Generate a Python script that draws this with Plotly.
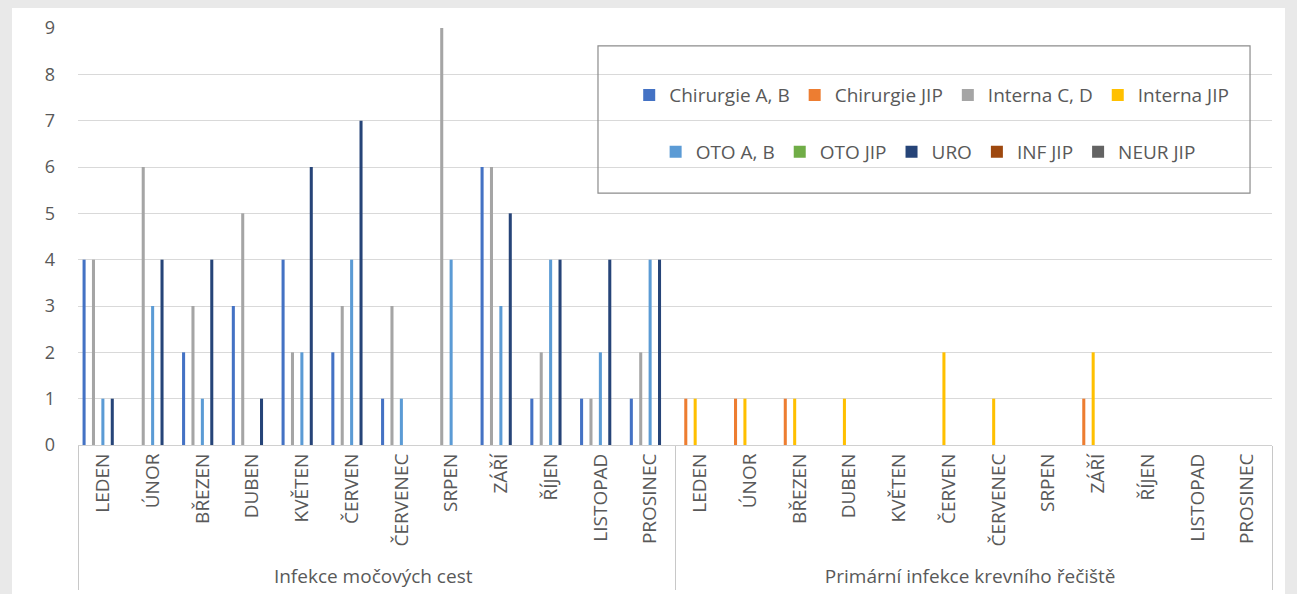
import plotly.graph_objects as go

months = ["LEDEN", "ÚNOR", "BŘEZEN", "DUBEN", "KVĚTEN", "ČERVEN", "ČERVENEC",
          "SRPEN", "ZÁŘÍ", "ŘÍJEN", "LISTOPAD", "PROSINEC"]
groups = ["Infekce močových cest", "Primární infekce krevního řečiště"]

series_names = ["Chirurgie A, B", "Chirurgie JIP", "Interna C, D", "Interna JIP",
                "OTO A, B", "OTO JIP", "URO", "INF JIP", "NEUR JIP"]
series_colors = ["#4472C4", "#ED7D31", "#A5A5A5", "#FFC000",
                 "#5B9BD5", "#70AD47", "#264478", "#9E480E", "#636363"]

# values: first 12 = Infekce močových cest, last 12 = Primární infekce krevního řečiště
chir_ab     = [4, 0, 2, 3, 4, 2, 1, 0, 6, 1, 1, 1,  0, 0, 0, 0, 0, 0, 0, 0, 0, 0, 0, 0]
chir_jip    = [0, 0, 0, 0, 0, 0, 0, 0, 0, 0, 0, 0,  1, 1, 1, 0, 0, 0, 0, 0, 1, 0, 0, 0]
interna_cd  = [4, 6, 3, 5, 2, 3, 3, 9, 6, 2, 1, 2,  0, 0, 0, 0, 0, 0, 0, 0, 0, 0, 0, 0]
interna_jip = [0, 0, 0, 0, 0, 0, 0, 0, 0, 0, 0, 0,  1, 1, 1, 1, 0, 2, 1, 0, 2, 0, 0, 0]
oto_ab      = [1, 3, 1, 0, 2, 4, 1, 4, 3, 4, 2, 4,  0, 0, 0, 0, 0, 0, 0, 0, 0, 0, 0, 0]
oto_jip     = [0, 0, 0, 0, 0, 0, 0, 0, 0, 0, 0, 0,  0, 0, 0, 0, 0, 0, 0, 0, 0, 0, 0, 0]
uro         = [1, 4, 4, 1, 6, 7, 0, 0, 5, 4, 4, 4,  0, 0, 0, 0, 0, 0, 0, 0, 0, 0, 0, 0]
inf_jip     = [0, 0, 0, 0, 0, 0, 0, 0, 0, 0, 0, 0,  0, 0, 0, 0, 0, 0, 0, 0, 0, 0, 0, 0]
neur_jip    = [0, 0, 0, 0, 0, 0, 0, 0, 0, 0, 0, 0,  0, 0, 0, 0, 0, 0, 0, 0, 0, 0, 0, 0]

series_values = [chir_ab, chir_jip, interna_cd, interna_jip,
                 oto_ab, oto_jip, uro, inf_jip, neur_jip]

x_outer = [g for g in groups for _ in months]
x_inner = [m for _ in groups for m in months]

FONT = "Open Sans"
TXT = "#595959"

fig = go.Figure()
for i, (name, col, vals) in enumerate(zip(series_names, series_colors, series_values)):
    fig.add_trace(go.Bar(
        x=[x_outer, x_inner], y=vals, name=name,
        marker=dict(color=col, line=dict(width=0)),
        legend="legend" if i < 4 else "legend2",
    ))

legend_common = dict(
    orientation="h", xanchor="center", yanchor="middle",
    bgcolor="rgba(0,0,0,0)", borderwidth=0,
    font=dict(family=FONT, size=19, color=TXT),
    itemwidth=30, traceorder="normal", tracegroupgap=0,
)

fig.update_layout(
    width=1297, height=594,
    margin=dict(l=78, r=25, t=28, b=149),
    paper_bgcolor="#e9e9e9",
    plot_bgcolor="#ffffff",
    barmode="group", bargap=0.15, bargroupgap=0.35,
    font=dict(family=FONT, color=TXT),
    legend=dict(x=0.715, y=0.839, **legend_common),
    legend2=dict(x=0.712, y=0.703, **legend_common),
    xaxis=dict(
        type="multicategory",
        tickangle=-90,
        tickfont=dict(family=FONT, size=19, color=TXT),
        showline=True, linecolor="#d0d0d0", linewidth=1,
        showgrid=False, ticks="",
        showdividers=True, dividercolor="#c8c8c8", dividerwidth=1,
        automargin=False,
    ),
    yaxis=dict(
        range=[0, 9], dtick=1, tick0=0,
        tickfont=dict(family=FONT, size=18, color=TXT),
        showgrid=True, gridcolor="#d9d9d9", gridwidth=1,
        zeroline=False, showline=False, ticks="",
        ticklabelstandoff=22, automargin=False,
    ),
    shapes=[
        dict(type="rect", xref="paper", yref="paper",
             x0=-0.0553, x1=1.0109, y0=-0.40, y1=1.048,
             fillcolor="#ffffff", line=dict(width=0), layer="below"),
        dict(type="rect", xref="paper", yref="paper",
             x0=0.4355, x1=0.9816, y0=0.604, y1=0.957,
             fillcolor="rgba(0,0,0,0)", line=dict(color="#8c8c8c", width=1.2),
             layer="above"),
    ],
)

fig.write_html(
    "out.html",
    config={"displayModeBar": False},
    post_script="document.body.style.margin='0';document.body.style.overflow='hidden';",
)
